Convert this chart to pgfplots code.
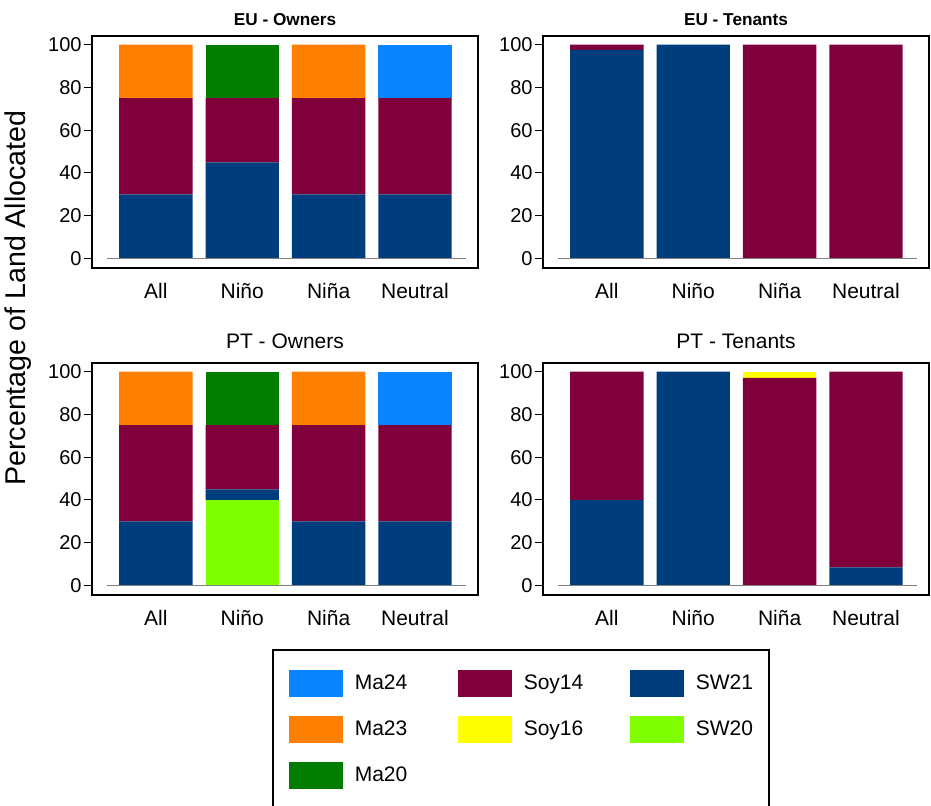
\documentclass[border=0pt]{standalone}
\usepackage{fontspec}
\setmainfont{Liberation Sans}
\usepackage{pgfplots}
\usepackage{pgfplotstable}
\pgfplotsset{compat=1.18}

% crop colours
\definecolor{ma24}{RGB}{10,132,255}
\definecolor{ma23}{RGB}{255,128,0}
\definecolor{ma20}{RGB}{0,125,0}
\definecolor{soy14}{RGB}{128,0,60}
\definecolor{soy16}{RGB}{255,255,0}
\definecolor{sw21}{RGB}{0,61,124}
\definecolor{sw20}{RGB}{128,255,0}

% share of land (%) per crop; x: 0 All, 1 Nino, 2 Nina, 3 Neutral
\pgfplotstableread{
x SW20 SW21 Soy14 Soy16 Ma20 Ma23 Ma24
0 0    30   45    0     0    25   0
1 0    45   30    0     25   0    0
2 0    30   45    0     0    25   0
3 0    30   45    0     0    0    25
}\tabEUowners
\pgfplotstableread{
x SW20 SW21 Soy14 Soy16 Ma20 Ma23 Ma24
0 0    97.5 2.5   0     0    0    0
1 0    100  0     0     0    0    0
2 0    0    100   0     0    0    0
3 0    0    100   0     0    0    0
}\tabEUtenants
\pgfplotstableread{
x SW20 SW21 Soy14 Soy16 Ma20 Ma23 Ma24
0 0    30   45    0     0    25   0
1 40   5    30    0     25   0    0
2 0    30   45    0     0    25   0
3 0    30   45    0     0    0    25
}\tabPTowners
\pgfplotstableread{
x SW20 SW21 Soy14 Soy16 Ma20 Ma23 Ma24
0 0    40   60    0     0    0    0
1 0    100  0     0     0    0    0
2 0    0    97    3     0    0    0
3 0    8.5  91.5  0     0    0    0
}\tabPTtenants

\pgfplotsset{
  panel/.style={
    scale only axis, width=193pt, height=116pt, anchor=north west,
    ybar stacked, bar width=0.85,
    xmin=-0.74, xmax=3.73, ymin=-4.4, ymax=104,
    xtick={0,1,2,3}, xticklabels={All,Niño,Niña,Neutral},
    ytick={0,20,...,100},
    axis line style={line width=1pt},
    ytick pos=left, xtick pos=bottom,
    tick align=outside, major tick length=4pt,
    tick style={line width=0.5pt, black},
    major x tick style={draw=none},
    yticklabel style={font=\fontsize{10}{11}\selectfont, inner xsep=1pt},
    xticklabel style={font=\fontsize{10.5}{12}\selectfont, anchor=base, yshift=-11pt},
    /pgf/number format/assume math mode=true,
    every axis title/.style={at={(0.5,1)}, anchor=base, yshift=5.5pt},
  },
  eutitle/.style={title style={font=\bfseries\fontsize{8.6}{10}\selectfont}},
  pttitle/.style={title style={font=\fontsize{10.5}{12}\selectfont, yshift=2pt}},
}

% the stacked bars of one panel, bottom to top
\newcommand{\stackbars}[1]{%
  \draw[gray, line width=0.8pt] (axis cs:-0.57,0) -- (axis cs:3.59,0);
  \addplot[fill=sw20, draw=none] table[x=x, y=SW20] {#1};
  \addplot[fill=sw21, draw=none] table[x=x, y=SW21] {#1};
  \addplot[fill=soy14, draw=none] table[x=x, y=Soy14] {#1};
  \addplot[fill=soy16, draw=none] table[x=x, y=Soy16] {#1};
  \addplot[fill=ma20, draw=none] table[x=x, y=Ma20] {#1};
  \addplot[fill=ma23, draw=none] table[x=x, y=Ma23] {#1};
  \addplot[fill=ma24, draw=none] table[x=x, y=Ma24] {#1};
}

\begin{document}
\begin{tikzpicture}
\useasboundingbox (0pt,0pt) rectangle (465.5pt,-402.5pt);

\begin{axis}[panel, eutitle, at={(46pt,-18pt)}, title={EU - Owners}]
  \stackbars{\tabEUowners}
\end{axis}

\begin{axis}[panel, eutitle, at={(271.5pt,-18pt)}, title={EU - Tenants}]
  \stackbars{\tabEUtenants}
\end{axis}

\begin{axis}[panel, pttitle, at={(46pt,-181.5pt)}, title={PT - Owners}]
  \stackbars{\tabPTowners}
\end{axis}

\begin{axis}[panel, pttitle, at={(271.5pt,-181.5pt)}, title={PT - Tenants}]
  \stackbars{\tabPTtenants}
\end{axis}

\node[rotate=90, font=\fontsize{14.3}{16}\selectfont] at (9pt,-149pt) {Percentage of Land Allocated};

% legend
\begin{axis}[
  at={(136pt,-324.5pt)}, anchor=north west,
  scale only axis, width=10pt, height=10pt, hide axis,
  xmin=0, xmax=1, ymin=0, ymax=1,
  legend columns=3,
  legend cell align=left,
  legend image code/.code={
    \fill[#1] (0pt,-6.75pt) rectangle (27pt,6.75pt);
    \path[fill=none, draw=none] (0pt,-11.5pt) rectangle (33pt,11.5pt);
  },
  legend style={
    at={(0,1)}, anchor=north west,
    draw=black, line width=0.8pt,
    inner xsep=8pt, inner ysep=5.5pt,
    column sep=0pt, row sep=0pt,
    font=\fontsize{10.5}{12}\selectfont,
    nodes={inner sep=0pt},
  },
]
  \addlegendimage{fill=ma24, draw=none}
  \addlegendentry{\makebox[51.5pt][l]{Ma24}}
  \addlegendimage{fill=soy14, draw=none}
  \addlegendentry{\makebox[53pt][l]{Soy14}}
  \addlegendimage{fill=sw21, draw=none}
  \addlegendentry{SW21}
  \addlegendimage{fill=ma23, draw=none}
  \addlegendentry{\makebox[51.5pt][l]{Ma23}}
  \addlegendimage{fill=soy16, draw=none}
  \addlegendentry{\makebox[53pt][l]{Soy16}}
  \addlegendimage{fill=sw20, draw=none}
  \addlegendentry{SW20}
  \addlegendimage{fill=ma20, draw=none}
  \addlegendentry{\makebox[51.5pt][l]{Ma20}}
\end{axis}
\end{tikzpicture}
\end{document}
